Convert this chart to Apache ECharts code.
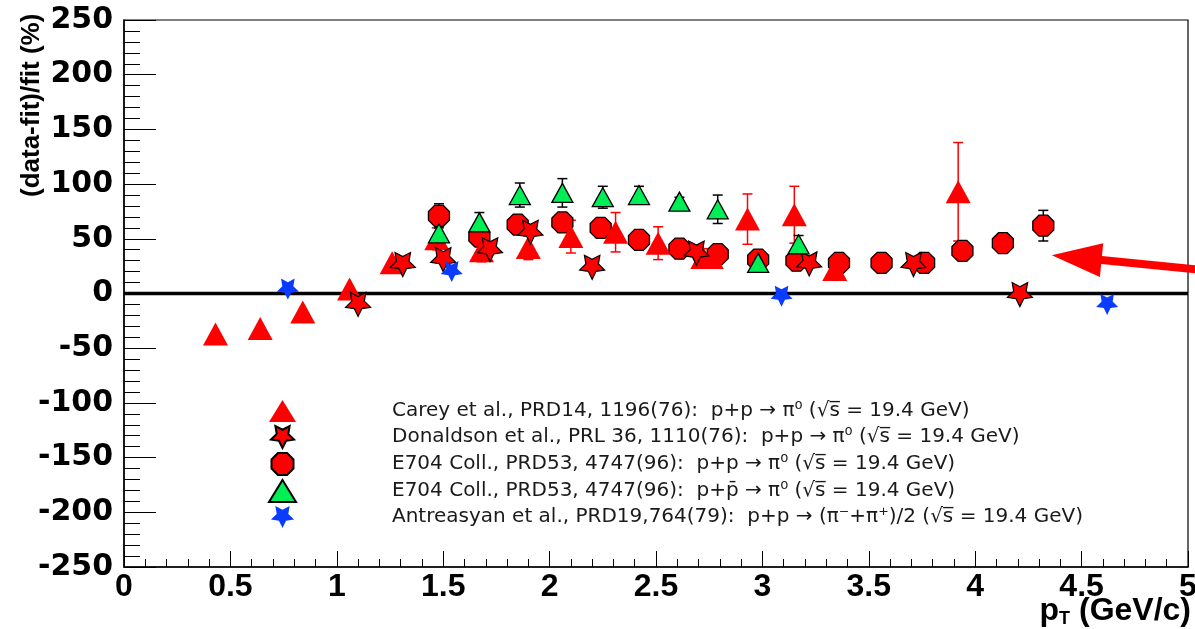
<!DOCTYPE html>
<html><head><meta charset="utf-8">
<script src="https://cdn.jsdelivr.net/npm/echarts@6/dist/echarts.min.js"></script>
<style>html,body{margin:0;padding:0;background:#fff}#c{width:1195px;height:629px}</style>
</head><body><div id="c"></div>
<script>
// ---- data: [pT, (data-fit)/fit %, error] ----
const seriesNames = [
  'Carey et al., PRD14, 1196(76):  p+p \u2192 \u03c0\u2070 (\u221as\u0305 = 19.4 GeV)',
  'Donaldson et al., PRL 36, 1110(76):  p+p \u2192 \u03c0\u2070 (\u221as\u0305 = 19.4 GeV)',
  'E704 Coll., PRD53, 4747(96):  p+p \u2192 \u03c0\u2070 (\u221as\u0305 = 19.4 GeV)',
  'E704 Coll., PRD53, 4747(96):  p+p\u0304 \u2192 \u03c0\u2070 (\u221as\u0305 = 19.4 GeV)',
  'Antreasyan et al., PRD19,764(79):  p+p \u2192 (\u03c0\u207b+\u03c0\u207a)/2 (\u221as\u0305 = 19.4 GeV)'
];
const careyData = [
  [0.43,-37,0],[0.64,-32,0],[0.84,-17,0],[1.06,4,0],[1.26,28,0],
  [1.47,50,10],[1.68,39,10],[1.90,42,11],[2.10,52,15],[2.31,56,18],
  [2.51,46,15],[2.72,33,8],[2.76,33,0],[2.93,68,23],[3.15,72,26],
  [3.34,22,0],[3.92,93,45]
];
const donaldsonData = [
  [1.10,-10],[1.31,26.5],[1.50,31],[1.72,40],[1.91,56],[2.20,24],
  [2.69,37],[3.22,27],[3.71,26.5],[4.21,-1]
];
const e704ppData = [
  [1.48,71,11],[1.67,52,0],[1.85,63,0],[2.06,65,0],[2.24,60,0],[2.42,49,0],
  [2.61,41,0],[2.79,36,0],[2.98,31,0],[3.16,30,0],[3.36,28,0],[3.56,28,0],
  [3.76,28,0],[3.94,39,0],[4.13,46,4],[4.32,62,14]
];
const e704pbarpData = [
  [1.48,55,0],[1.67,65,9],[1.86,90,11],[2.06,92,13],[2.25,88,10],[2.42,90,8],
  [2.61,84,4],[2.79,77,13],[2.98,28,0],[3.17,45,8]
];
const antreasyanData = [[0.77,4],[1.54,20],[3.09,-2.5],[4.62,-10]];
const zeroLine = [[0,0],[5,0]];
const arrowTip = [4.36, 35];
const arrowTail = [5.04, 22];

const STAR = 'path://M0 -0.5 L0.588 -0.809 L0.476 -0.155 L0.951 0.309 L0.294 0.405 L0 1 L-0.294 0.405 L-0.951 0.309 L-0.476 -0.155 L-0.588 -0.809 Z';
const OCT = 'path://M-0.414 -1 L0.414 -1 L1 -0.414 L1 0.414 L0.414 1 L-0.414 1 L-1 0.414 L-1 -0.414 Z';

function errBars(d){ return d.filter(p=>p[2]>0).map(p=>[p[0],p[1]-p[2],p[1]+p[2]]); }
function errRender(color){
  return function(params, api){
    const x=api.value(0), lo=api.value(1), hi=api.value(2);
    const a=api.coord([x,lo]), b=api.coord([x,hi]);
    const cap=5, st={stroke:color,lineWidth:1.5};
    return {type:'group', children:[
      {type:'line', shape:{x1:a[0],y1:a[1],x2:b[0],y2:b[1]}, style:st},
      {type:'line', shape:{x1:a[0]-cap,y1:a[1],x2:a[0]+cap,y2:a[1]}, style:st},
      {type:'line', shape:{x1:b[0]-cap,y1:b[1],x2:b[0]+cap,y2:b[1]}, style:st}
    ]};
  };
}

const chart = echarts.init(document.getElementById('c'), null, {renderer:'canvas'});
const NARROW = '"Liberation Sans Narrow","Liberation Sans",Arial,sans-serif';
chart.setOption({
  animation:false,
  backgroundColor:'#fff',
  grid:{left:124, right:7, top:20, bottom:62, containLabel:false, outerBoundsMode:'none',
        show:true, borderColor:'#000', borderWidth:1.2, backgroundColor:'transparent'},
  legend:{
    orient:'vertical', left:263, top:395, itemWidth:27, itemHeight:22, itemGap:3,
    data:seriesNames, selectedMode:false,
    textStyle:{fontFamily:'"DejaVu Sans",sans-serif', fontSize:20, lineHeight:22, color:'#1a1a1a', padding:[0,0,0,91]}
  },
  xAxis:{
    type:'value', min:0, max:5, interval:0.5,
    axisLine:{onZero:false, lineStyle:{color:'#000', width:1.5}},
    axisTick:{inside:true, length:16, lineStyle:{color:'#000', width:1}},
    minorTick:{show:true, splitNumber:5, length:8, lineStyle:{color:'#000', width:1}},
    splitLine:{show:false},
    axisLabel:{margin:4, fontFamily:NARROW, fontWeight:'bold', fontSize:32, color:'#000'}
  },
  yAxis:{
    type:'value', min:-250, max:250, interval:50,
    axisLine:{onZero:false, lineStyle:{color:'#000', width:1.5}},
    axisTick:{inside:true, length:32, lineStyle:{color:'#000', width:1}},
    minorTick:{show:true, splitNumber:5, length:16, lineStyle:{color:'#000', width:1}},
    splitLine:{show:false},
    axisLabel:{margin:11, fontFamily:'"DejaVu Sans",sans-serif', fontWeight:'bold', fontSize:30, color:'#000'}
  },
  graphic:[{
    type:'text', id:'ytitle', x:32, y:197, rotation:Math.PI/2,
    style:{text:'(data-fit)/fit (%)', font:'bold 26px "Liberation Sans", Arial, sans-serif', fill:'#000', align:'left', verticalAlign:'middle'}
  },{
    type:'text', id:'xtitle', x:1191, y:611,
    style:{text:'{p|p}{t|T}{p| (GeV/c)}', align:'right', verticalAlign:'middle',
      rich:{
        p:{fontFamily:NARROW, fontWeight:'bold', fontSize:32, fill:'#000', lineHeight:34, verticalAlign:'middle'},
        t:{fontFamily:NARROW, fontWeight:'bold', fontSize:18, fill:'#000', lineHeight:34, verticalAlign:'bottom'}
      }}
  }],
  series:[
    {type:'line', name:'zero', data:zeroLine, symbol:'none', silent:true, z:1,
     lineStyle:{color:'#000', width:3.5}},
    {type:'custom', name:'errCarey', data:errBars(careyData), renderItem:errRender('#ff0000'), encode:{x:0,y:[1,2]}, z:2, silent:true},
    {type:'custom', name:'errE704pp', data:errBars(e704ppData), renderItem:errRender('#000'), encode:{x:0,y:[1,2]}, z:2, silent:true},
    {type:'custom', name:'errE704pbarp', data:errBars(e704pbarpData), renderItem:errRender('#000'), encode:{x:0,y:[1,2]}, z:2, silent:true},
    {type:'scatter', name:seriesNames[2], data:e704ppData.map(p=>[p[0],p[1]]), symbol:OCT, symbolSize:[21,21], z:3,
     itemStyle:{color:'#ff0000', borderColor:'#000', borderWidth:1.3, opacity:1}},
    {type:'scatter', name:seriesNames[0], data:careyData.map(p=>[p[0],p[1]]), symbol:'triangle', symbolSize:[25,23], z:4,
     itemStyle:{color:'#ff0000', opacity:1}},
    {type:'scatter', name:seriesNames[1], data:donaldsonData, symbol:STAR, symbolSize:[25,24], z:5,
     itemStyle:{color:'#ff0000', borderColor:'#000', borderWidth:1.2, opacity:1}},
    {type:'scatter', name:seriesNames[3], data:e704pbarpData.map(p=>[p[0],p[1]]), symbol:'triangle', symbolSize:[21,19], z:6,
     itemStyle:{color:'#00ee55', borderColor:'#000', borderWidth:1.3, opacity:1}},
    {type:'scatter', name:seriesNames[4], data:antreasyanData, symbol:STAR, symbolSize:[22,21], z:7,
     itemStyle:{color:'#0a3cff', opacity:1}}
  ]
});

// red annotation arrow, placed through the axes' scales
const tip = chart.convertToPixel({gridIndex:0}, arrowTip);
const tail = chart.convertToPixel({gridIndex:0}, arrowTail);
const dx = tail[0]-tip[0], dy = tail[1]-tip[1], len = Math.hypot(dx,dy);
const ux = dx/len, uy = dy/len, nx = -uy, ny = ux;
const L = 50, H = 17, w = 4;
const bx = tip[0]+ux*L, by = tip[1]+uy*L;
chart.setOption({graphic:[{
  type:'polygon', id:'arrow', z:100,
  shape:{points:[
    [tip[0],tip[1]], [bx+nx*H,by+ny*H], [bx+nx*w,by+ny*w], [tail[0]+nx*w,tail[1]+ny*w],
    [tail[0]-nx*w,tail[1]-ny*w], [bx-nx*w,by-ny*w], [bx-nx*H,by-ny*H]
  ]},
  style:{fill:'#ff0000'}
}]});
</script></body></html>
